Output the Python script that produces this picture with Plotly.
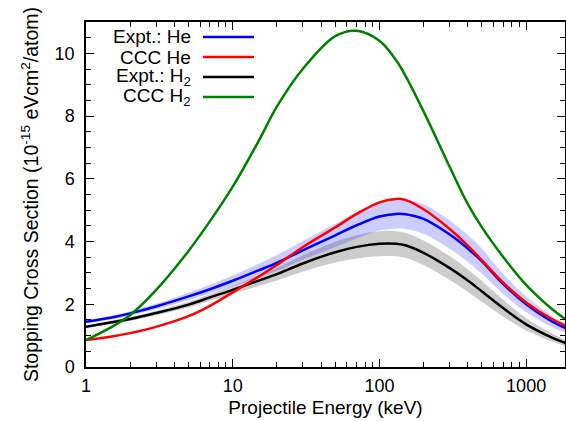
import plotly.graph_objects as go
import numpy as np

# ---- data ----
energy = [1, 1.5, 2, 3, 5, 7, 10, 15, 20, 30, 50, 70, 100, 130, 150, 200, 300, 400, 500, 700, 1000, 1500, 1900]

expt_he = [1.44, 1.58, 1.71, 1.93, 2.25, 2.48, 2.75, 3.08, 3.32, 3.72, 4.20, 4.52, 4.80, 4.88, 4.87, 4.72, 4.23, 3.78, 3.37, 2.64, 2.00, 1.45, 1.22]
ccc_he = [0.86, 0.97, 1.08, 1.28, 1.62, 1.95, 2.38, 2.88, 3.25, 3.82, 4.45, 4.88, 5.25, 5.36, 5.33, 5.03, 4.41, 3.87, 3.40, 2.68, 2.06, 1.53, 1.30]
expt_h2 = [1.28, 1.43, 1.53, 1.72, 1.99, 2.22, 2.46, 2.75, 2.96, 3.30, 3.66, 3.83, 3.93, 3.93, 3.88, 3.64, 3.16, 2.76, 2.41, 1.87, 1.36, 0.94, 0.75]
ccc_h2 = [0.86, 1.28, 1.66, 2.45, 3.70, 4.65, 5.75, 7.20, 8.30, 9.50, 10.55, 10.72, 10.40, 9.78, 9.30, 8.15, 6.40, 5.20, 4.45, 3.50, 2.62, 1.85, 1.49]

# uncertainty half-widths of the experimental bands
expt_he_err = [0.05, 0.06, 0.07, 0.09, 0.12, 0.14, 0.17, 0.21, 0.25, 0.30, 0.37, 0.42, 0.45, 0.47, 0.47, 0.47, 0.45, 0.43, 0.40, 0.32, 0.25, 0.18, 0.14]
expt_h2_err = [0.04, 0.05, 0.06, 0.07, 0.09, 0.11, 0.13, 0.17, 0.20, 0.26, 0.33, 0.37, 0.40, 0.40, 0.40, 0.39, 0.38, 0.36, 0.33, 0.27, 0.20, 0.13, 0.10]

legend_labels = ["Expt.: He", "CCC He", "Expt.: H<sub>2</sub>", "CCC H<sub>2</sub>"]
legend_colors = ["#0000ff", "#ff0000", "#000000", "#008000"]

x_range = [1, 1841]
y_range = [0, 11]

FONT = "Liberation Sans, Arial, Helvetica, sans-serif"

fig = go.Figure()

def band(y, err, color):
    up = [a + b for a, b in zip(y, err)]
    lo = [a - b for a, b in zip(y, err)]
    fig.add_trace(go.Scatter(x=energy, y=lo, mode="lines",
                             line=dict(width=0, shape="spline", smoothing=1.0),
                             hoverinfo="skip", showlegend=False))
    fig.add_trace(go.Scatter(x=energy, y=up, mode="lines", fill="tonexty", fillcolor=color,
                             line=dict(width=0, shape="spline", smoothing=1.0),
                             hoverinfo="skip", showlegend=False))

band(expt_h2, expt_h2_err, "rgba(0,0,0,0.2)")
band(expt_he, expt_he_err, "rgba(0,0,255,0.2)")

for y, c in [(expt_h2, "#000000"), (expt_he, "#0000ff"), (ccc_he, "#ff0000"), (ccc_h2, "#008000")]:
    fig.add_trace(go.Scatter(x=energy, y=y, mode="lines",
                             line=dict(color=c, width=2.5, shape="spline", smoothing=1.0),
                             showlegend=False))

# manual legend (text left of the line sample, as in the reference)
L, T, W, H = 86, 22, 479, 345
def px(x):
    return (x - L) / W
def py(y):
    return (T + H - y) / H

rows_y = [37, 57, 77, 97]
for lab, col, ry in zip(legend_labels, legend_colors, rows_y):
    fig.add_annotation(x=px(193), y=py(ry), xref="paper", yref="paper", text=lab,
                       showarrow=False, xanchor="right", yanchor="middle",
                       font=dict(family=FONT, size=19, color="black"))
    fig.add_shape(type="line", xref="paper", yref="paper", x0=px(203), x1=px(254),
                  y0=py(ry), y1=py(ry), line=dict(color=col, width=2.5))

axis_common = dict(showline=True, linecolor="black", linewidth=1.5, mirror="ticks",
                   ticks="inside", tickcolor="black", tickwidth=1, ticklen=8,
                   showgrid=False, zeroline=False,
                   tickfont=dict(family=FONT, size=18, color="black"))

fig.update_xaxes(type="log", range=[np.log10(x_range[0]), np.log10(x_range[1])],
                 tickvals=[1, 10, 100, 1000], ticktext=["1", "10", "100", "1000"],
                 minor=dict(ticks="inside", ticklen=5, tickcolor="black", tickwidth=1,
                            tickvals=[m * 10 ** d for d in range(4) for m in range(2, 10)]),
                 title=dict(text="Projectile Energy (keV)", font=dict(family=FONT, size=19, color="black"), standoff=5),
                 ticklabelstandoff=2,
                 **axis_common)
fig.update_yaxes(range=y_range, tickvals=[0, 2, 4, 6, 8, 10],
                 minor=dict(ticks="inside", ticklen=5, tickcolor="black", tickwidth=1, dtick=0.5),
                 title=dict(text="Stopping Cross Section (10<sup>-15</sup> eVcm<sup>2</sup>/atom)",
                            font=dict(family=FONT, size=19.5, color="black"), standoff=11),
                 ticklabelstandoff=6,
                 **axis_common)

fig.update_layout(width=566, height=421, margin=dict(l=L, r=1, t=T, b=421 - T - H, autoexpand=False),
                  plot_bgcolor="white", paper_bgcolor="white", showlegend=False)

fig.write_html("out.html", config={"displayModeBar": False},
               post_script="document.body.style.margin='0px';document.body.style.overflow='hidden';")
